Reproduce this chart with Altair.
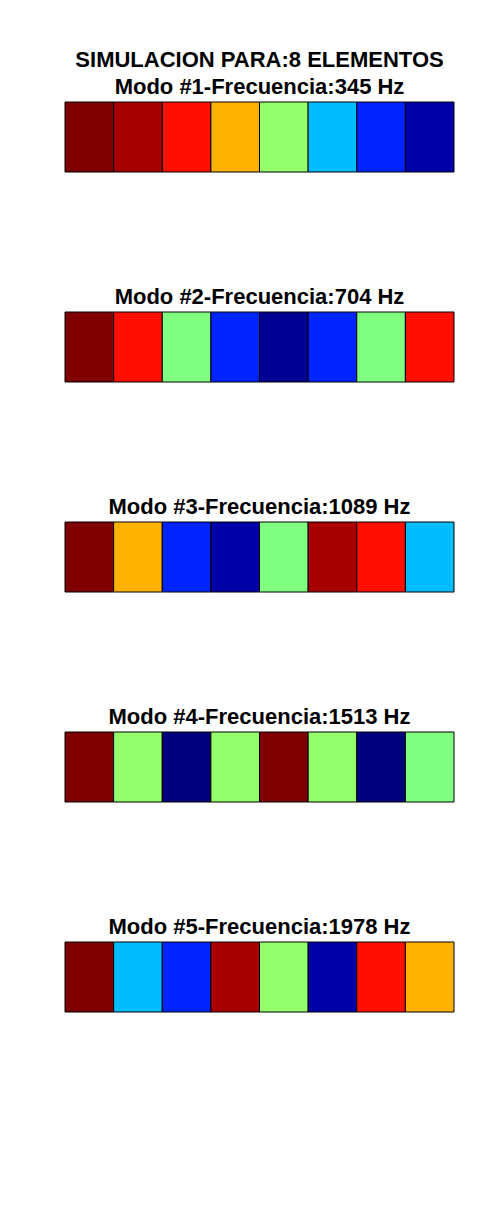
import altair as alt
import pandas as pd

suptitle = "SIMULACION PARA:8 ELEMENTOS"
modes = [1, 2, 3, 4, 5]
freqs = [345, 704, 1089, 1513, 1978]
elements = [1, 2, 3, 4, 5, 6, 7, 8]
# colour value of each element (jet colormap, 0..1) per mode
mode1 = [1.00, 0.96, 0.86, 0.70, 0.52, 0.31, 0.16, 0.04]
mode2 = [1.00, 0.86, 0.50, 0.16, 0.02, 0.16, 0.50, 0.86]
mode3 = [1.00, 0.70, 0.16, 0.04, 0.50, 0.96, 0.86, 0.31]
mode4 = [1.00, 0.52, 0.00, 0.52, 1.00, 0.52, 0.00, 0.50]
mode5 = [1.00, 0.31, 0.16, 0.96, 0.52, 0.04, 0.86, 0.70]
all_modes = [mode1, mode2, mode3, mode4, mode5]

jet_domain = [0, 0.125, 0.375, 0.625, 0.875, 1]
jet_range = ["#00007F", "#0000FF", "#00FFFF", "#FFFF00", "#FF0000", "#7F0000"]

FONT = "Liberation Sans"

panels = []
for m, f, vals in zip(modes, freqs, all_modes):
    df = pd.DataFrame({
        "x0": [e - 1 for e in elements],
        "x1": elements,
        "v": vals,
    })
    t = f"Modo #{m}-Frecuencia:{f} Hz"
    text = [suptitle, t] if m == 1 else t
    ch = alt.Chart(df).mark_rect(stroke="black", strokeWidth=1).encode(
        x=alt.X("x0:Q", scale=alt.Scale(domain=[0, 8], nice=False, zero=False), axis=None),
        x2="x1",
        y=alt.value(0),
        y2=alt.value(70),
        color=alt.Color("v:Q", scale=alt.Scale(domain=jet_domain, range=jet_range, interpolate="rgb"), legend=None),
    ).properties(
        width=389, height=70,
        title=alt.TitleParams(text=text, font=FONT, fontSize=22, fontWeight="bold",
                              color="black", offset=3, lineHeight=27, anchor="middle"),
    )
    panels.append(ch)

chart = alt.vconcat(*panels, spacing=112).properties(
    padding={"left": 56, "top": 40, "right": 5, "bottom": 5},
    background="white",
).configure_view(stroke=None)

chart.save("out.html", embed_options={"renderer": "svg", "actions": False})
